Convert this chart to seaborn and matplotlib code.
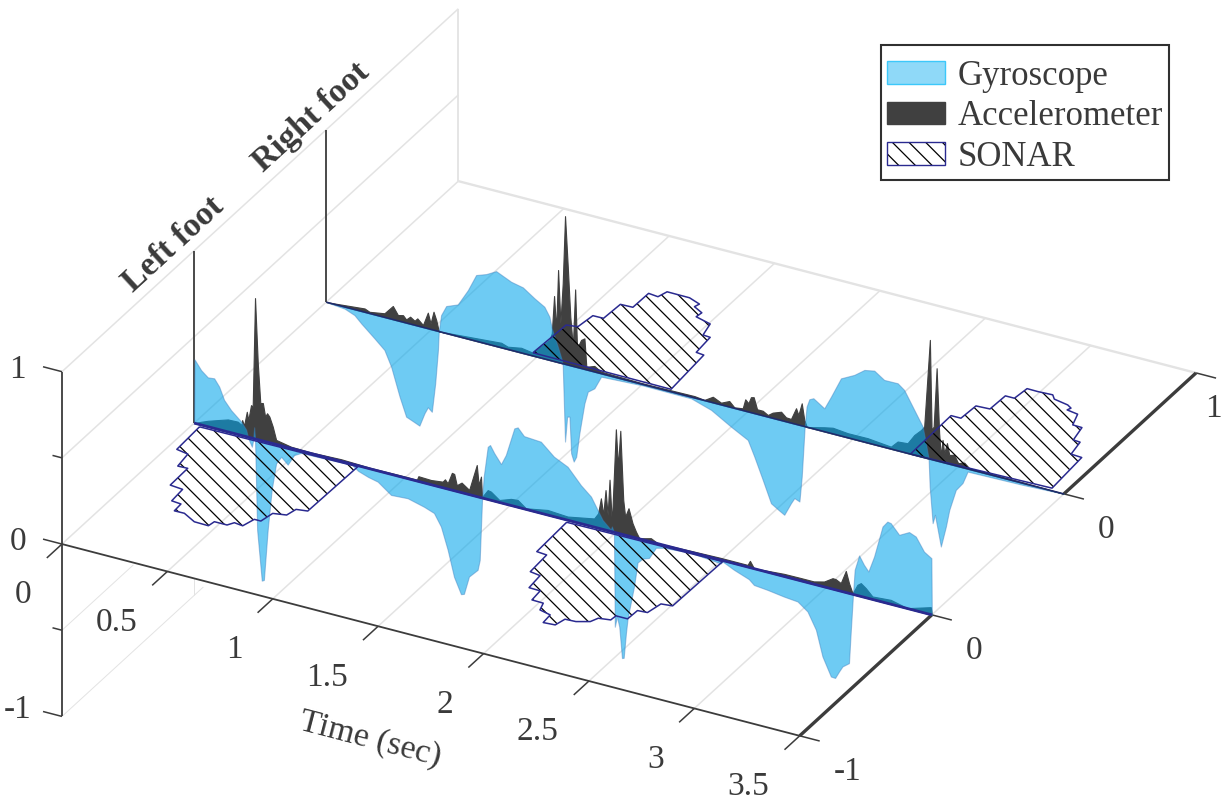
import numpy as np
import matplotlib
matplotlib.use('Agg')
import matplotlib.pyplot as plt
from matplotlib.patches import Patch, Rectangle
from mpl_toolkits.mplot3d import proj3d
from mpl_toolkits.mplot3d.art3d import Poly3DCollection
import seaborn as sns

# left foot
left_gyro_t = [0, 0.002, 0.033, 0.065, 0.095, 0.119, 0.142, 0.175, 0.223, 0.247, 0.256, 0.274, 0.280, 0.285, 0.289, 0.299, 0.321, 0.331, 0.349, 0.368, 0.389, 0.413, 0.444, 0.474, 0.507, 0.75, 0.778, 0.825, 0.871, 0.934, 1.013, 1.091, 1.138, 1.171, 1.203, 1.233, 1.266, 1.280, 1.304, 1.345, 1.355, 1.366, 1.374, 1.393, 1.404, 1.424, 1.456, 1.479, 1.519, 1.535, 1.565, 1.645, 1.707, 1.772, 1.835, 1.883, 1.914, 1.938, 1.977, 1.982, 1.992, 1.996, 2.006, 2.017, 2.030, 2.038, 2.049, 2.057, 2.087, 2.104, 2.128, 2.158, 2.191, 2.229, 2.357, 2.499, 2.507, 2.561, 2.632, 2.656, 2.720, 2.798, 2.863, 2.910, 2.950, 2.981, 3.021, 3.041, 3.060, 3.076, 3.107, 3.115, 3.126, 3.134, 3.155, 3.178, 3.199, 3.226, 3.266, 3.289, 3.305, 3.345, 3.392, 3.424, 3.463, 3.498, 3.5]
left_gyro_z = [0, 0.37, 0.318, 0.286, 0.29, 0.249, 0.18, 0.131, 0.08, 0.04, -0.005, -0.05, -0.01, 0.066, 0, -0.525, -0.812, -0.805, -0.51, -0.27, -0.11, -0.064, -0.10, -0.035, -0.012, -0.005, -0.03, -0.05, -0.063, -0.12, -0.114, -0.139, -0.16, -0.228, -0.353, -0.5, -0.59, -0.584, -0.476, -0.424, -0.364, -0.012, 0.126, 0.305, 0.319, 0.278, 0.225, 0.285, 0.452, 0.463, 0.422, 0.415, 0.348, 0.31, 0.223, 0.172, 0.105, 0.054, 0.01, 0.03, 0, -0.547, -0.485, -0.54, -0.718, -0.714, -0.565, -0.477, -0.285, -0.14, -0.11, -0.097, -0.027, -0.015, -0.004, -0.02, -0.006, -0.037, -0.069, -0.095, -0.103, -0.117, -0.125, -0.168, -0.261, -0.406, -0.51, -0.512, -0.468, -0.434, -0.405, -0.228, -0.002, 0.145, 0.235, 0.188, 0.156, 0.251, 0.438, 0.474, 0.47, 0.415, 0.446, 0.43, 0.355, 0.328, 0]

left_acc_t = [0, 0.033, 0.065, 0.112, 0.160, 0.207, 0.225, 0.228, 0.237, 0.250, 0.257, 0.270, 0.278, 0.289, 0.302, 0.314, 0.326, 0.337, 0.346, 0.357, 0.373, 0.389, 0.460, 0.555, 0.697, 0.839, 0.982, 1.057, 1.064, 1.124, 1.179, 1.190, 1.203, 1.223, 1.234, 1.246, 1.269, 1.305, 1.341, 1.350, 1.361, 1.366, 1.393, 1.408, 1.448, 1.503, 1.535, 1.574, 1.677, 1.772, 1.898, 1.917, 1.930, 1.941, 1.952, 1.962, 1.971, 1.982, 2.001, 2.011, 2.022, 2.036, 2.045, 2.061, 2.080, 2.096, 2.112, 2.167, 2.199, 2.357, 2.499, 2.626, 2.637, 2.656, 2.799, 2.878, 2.940, 2.989, 3.029, 3.044, 3.068, 3.092, 3.107, 3.124, 3.147, 3.163, 3.187, 3.218, 3.305, 3.384, 3.495, 3.5]
left_acc_z = [0, 0.018, 0.034, 0.053, 0.072, 0.074, 0.06, 0.09, 0.06, 0.145, 0.099, 0.19, 0.183, 0.817, 0.444, 0.216, 0.22, 0.144, 0.167, 0.151, 0.098, 0.026, 0.009, 0.006, 0.012, 0.006, 0.008, 0.008, 0.03, 0.027, 0.035, 0.052, 0.033, 0.10, 0.097, 0.036, 0.058, 0.027, 0.183, 0.07, 0.122, 0.005, 0.054, 0.05, 0.014, 0.038, 0.042, 0.006, 0.029, 0.021, 0.05, 0.086, 0.177, 0.084, 0.232, 0.09, 0.298, 0.049, 0.60, 0.386, 0.598, 0.201, 0.107, 0.161, 0.08, 0.037, 0.003, 0.021, 0.002, 0.008, 0.012, 0.012, 0.039, 0.002, 0.015, 0.016, 0.016, 0.031, 0.063, 0.062, 0.047, 0.125, 0.059, 0.005, 0.062, 0.077, 0.055, 0.017, 0.025, 0.002, 0.043, 0]

left_sonar1_t = [0.035, 0.042, 0.102, 0.113, 0.159, 0.162, 0.225, 0.231, 0.278, 0.281, 0.328, 0.399, 0.467, 0.473, 0.533, 0.551, 0.594, 0.611, 0.642, 0.655, 0.713, 0.725, 0.775, 0.781]
left_sonar1_a = [-0.015, -0.198, -0.21, -0.304, -0.302, -0.439, -0.446, -0.538, -0.543, -0.598, -0.597, -0.635, -0.637, -0.601, -0.601, -0.574, -0.58, -0.519, -0.519, -0.45, -0.437, -0.385, -0.376, -0.007]
left_sonar2_t = [1.777, 1.785, 1.835, 1.842, 1.894, 1.902, 1.956, 1.962, 2.017, 2.032, 2.09, 2.095, 2.149, 2.162, 2.212, 2.265, 2.281, 2.334, 2.337, 2.392, 2.395, 2.44, 2.455, 2.506, 2.512]
left_sonar2_a = [-0.015, -0.254, -0.259, -0.394, -0.403, -0.499, -0.501, -0.573, -0.575, -0.624, -0.639, -0.70, -0.695, -0.642, -0.639, -0.615, -0.58, -0.57, -0.535, -0.535, -0.465, -0.461, -0.383, -0.376, -0.007]

# right foot
right_gyro_t = [0, 0.087, 0.134, 0.166, 0.229, 0.276, 0.308, 0.348, 0.379, 0.403, 0.442, 0.466, 0.482, 0.501, 0.517, 0.530, 0.534, 0.545, 0.569, 0.624, 0.672, 0.711, 0.759, 0.806, 0.877, 0.933, 0.988, 1.035, 1.059, 1.070, 1.099, 1.118, 1.122, 1.133, 1.143, 1.154, 1.162, 1.174, 1.186, 1.201, 1.225, 1.241, 1.272, 1.304, 1.5, 1.731, 1.826, 1.92, 2.0, 2.031, 2.071, 2.11, 2.145, 2.173, 2.205, 2.221, 2.245, 2.256, 2.27, 2.279, 2.292, 2.311, 2.363, 2.395, 2.442, 2.505, 2.553, 2.6, 2.647, 2.711, 2.742, 2.79, 2.83, 2.845, 2.858, 2.863, 2.877, 2.888, 2.916, 2.94, 2.956, 2.987, 3.019, 3.043, 3.3, 3.5]
right_gyro_z = [0, -0.01, -0.033, -0.071, -0.138, -0.19, -0.277, -0.438, -0.544, -0.556, -0.576, -0.497, -0.457, -0.477, -0.307, -0.11, 0, 0.098, 0.158, 0.185, 0.283, 0.383, 0.404, 0.436, 0.397, 0.382, 0.336, 0.302, 0.252, 0.188, 0.09, 0.019, -0.008, -0.449, -0.301, -0.298, -0.508, -0.552, -0.52, -0.379, -0.198, -0.125, -0.096, -0.018, -0.006, -0.008, -0.045, -0.112, -0.164, -0.251, -0.373, -0.496, -0.523, -0.543, -0.465, -0.431, -0.443, -0.295, 0, 0.118, 0.165, 0.177, 0.135, 0.213, 0.334, 0.374, 0.418, 0.429, 0.39, 0.391, 0.362, 0.261, 0.177, 0.086, 0, -0.16, -0.368, -0.316, -0.491, -0.367, -0.266, -0.14, -0.09, -0.016, -0.01, 0]

right_acc_t = [0, 0.087, 0.182, 0.205, 0.276, 0.316, 0.34, 0.364, 0.379, 0.398, 0.419, 0.432, 0.459, 0.482, 0.495, 0.509, 0.522, 0.534, 0.672, 0.83, 0.861, 0.925, 0.98, 1.059, 1.07, 1.081, 1.091, 1.10, 1.111, 1.122, 1.133, 1.146, 1.158, 1.17, 1.181, 1.19, 1.209, 1.225, 1.234, 1.272, 1.304, 1.5, 1.747, 1.794, 1.834, 1.873, 1.912, 1.936, 1.976, 1.988, 2.003, 2.015, 2.028, 2.044, 2.071, 2.095, 2.118, 2.158, 2.181, 2.205, 2.229, 2.24, 2.256, 2.268, 2.28, 2.363, 2.403, 2.474, 2.569, 2.679, 2.711, 2.758, 2.79, 2.822, 2.837, 2.864, 2.872, 2.882, 2.896, 2.908, 2.916, 2.924, 2.932, 2.945, 2.956, 2.979, 2.998, 3.027, 3.051, 3.3, 3.5]
right_acc_z = [0, 0.01, 0.021, 0.009, 0.023, 0.078, 0.033, 0.04, 0.02, 0.042, 0.025, 0.043, 0.013, 0.092, 0.034, 0.106, 0.061, 0, 0.013, 0.028, 0.015, 0.029, 0.018, 0.117, 0.159, 0.379, 0.184, 0.536, 0.23, 0.465, 0.859, 0.569, 0.283, 0.113, 0.449, 0.11, 0.165, 0.179, 0.017, 0.034, 0.011, 0.006, 0.01, 0.003, 0.034, 0.012, 0.034, 0.005, 0.012, 0.068, 0.05, 0.089, 0.093, 0.028, 0.028, 0.011, 0.032, 0.05, 0.025, 0.023, 0.093, 0.057, 0.13, 0.038, 0, 0.025, 0.035, 0.026, 0.027, 0.013, 0.053, 0.058, 0.116, 0.155, 0.18, 0.691, 0.172, 0.194, 0.537, 0.164, 0.031, 0.13, 0.056, 0.118, 0.053, 0.061, 0.019, 0.031, 0.006, 0.005, 0]

right_sonar1_t = [0.968, 0.979, 1.029, 1.04, 1.09, 1.096, 1.154, 1.156, 1.204, 1.218, 1.325, 1.387, 1.379, 1.431, 1.426, 1.507, 1.525, 1.561, 1.57, 1.609, 1.626]
right_sonar1_a = [0.02, 0.254, 0.263, 0.359, 0.36, 0.478, 0.48, 0.596, 0.59, 0.637, 0.636, 0.612, 0.587, 0.56, 0.525, 0.502, 0.419, 0.416, 0.296, 0.291, 0.016]
right_sonar2_t = [2.772, 2.767, 2.814, 2.82, 2.884, 2.888, 2.931, 2.939, 2.99, 3.059, 3.082, 3.155, 3.18, 3.173, 3.229, 3.254, 3.299, 3.317, 3.351, 3.366, 3.419, 3.433]
right_sonar2_a = [0.0, 0.315, 0.315, 0.419, 0.423, 0.533, 0.533, 0.616, 0.615, 0.619, 0.594, 0.579, 0.564, 0.546, 0.536, 0.459, 0.457, 0.363, 0.36, 0.268, 0.264, 0.017]

time_ticks = [0, 0.5, 1, 1.5, 2, 2.5, 3, 3.5]
time_labels = ['0', '0.5', '1', '1.5', '2', '2.5', '3', '3.5']
foot_ticks = [0, 1, 2, 3]
foot_labels = ['-1', '0', '0', '1']
z_ticks = [-1, -0.5, 0, 0.5, 1]
z_labels = ['-1', '0', '1']
legend_labels = ['Gyroscope', 'Accelerometer', 'SONAR']

TEXT = '#3a3a3a'
AXIS = '#3c3c3c'
GRID = '#e3e3e3'
GYRO = (0.02, 0.65, 0.92, 0.58)
GYRO_EDGE = (0.25, 0.5, 0.75, 0.45)
ACC = '#404040'
NAVY = '#2a2a90'

sns.set_theme(style='white')
plt.rcParams['font.family'] = ['Liberation Serif', 'DejaVu Sans']
plt.rcParams['hatch.linewidth'] = 0.9

W, H = 1225, 797
P = 1400
fig = plt.figure(figsize=(W / 100, H / 100), dpi=100)
ax = fig.add_axes([(629 - 0.5135 * P) / W, (338.5 - 0.5135 * P) / H, P / W, P / H],
                  projection='3d', proj_type='ortho', computed_zorder=False)
ax.set_xlim(0, 3.5)
ax.set_ylim(0, 3)
ax.set_zlim(-1, 1)
ax.view_init(elev=29.2, azim=-61.95)
ax.set_box_aspect((836, 843, 395), zoom=0.8675)
ax.set_xticks([])
ax.set_yticks([])
ax.set_zticks([])
ax.set_axis_off()


def line(t, y, z, color=GRID, lw=1.0, zorder=1):
    ax.plot(t, y, z, color=color, lw=lw, zorder=zorder, solid_capstyle='butt')


def signal(t, z, y0, face, edge, zorder):
    verts = np.column_stack((t, np.full(len(t), y0), z))
    ax.add_collection3d(Poly3DCollection([verts], facecolors=[face], edgecolors=[edge],
                                         linewidths=0.8, zorder=zorder))


def sonar(t, a, y0, zorder):
    y = y0 + np.array(a)
    verts = np.column_stack((t, y, np.zeros(len(t))))
    ax.add_collection3d(Poly3DCollection([verts], facecolors=[(1, 1, 1, 0)], edgecolors=['black'],
                                         linewidths=0, hatch='\\\\', zorder=zorder))
    line(list(t) + [t[0]], list(y) + [y[0]], np.zeros(len(t) + 1), color=NAVY, lw=1.1, zorder=zorder + 0.1)


def label(t, y, z, s, **kw):
    # plain 2D text at the projected spot, so its extent is the drawn one
    px, py, _ = proj3d.proj_transform(t, y, z, ax.get_proj())
    ax.text2D(px, py, s, transform=ax.transData, color=TEXT, rotation_mode='anchor', **kw)


# back walls and floor grid
for z in [0, 0.5, 1]:
    line([0, 0], [0, 3], [z, z], lw=1.1)
line([0, 0], [0, 1.07], [-1, -1], lw=0.7)
line([0, 0], [0, 0.54], [-0.5, -0.5], lw=0.7)
line([0, 0], [1, 1], [-1, -0.9], lw=0.7)
line([0, 0], [3, 3], [0, 1], lw=1.3)
line([0, 3.5], [3, 3], [0, 0], lw=1.7)
for t in time_ticks[1:-1]:
    line([t, t], [0, 3], [0, 0], lw=1.1)
line([3.5, 3.5], [1, 2], [0, 0], lw=1.1)

# axes and ticks
line([0, 3.5], [0, 0], [0, 0], color=AXIS, lw=1.3, zorder=2)
line([0, 0], [0, 0], [-1, 1], color=AXIS, lw=1.3, zorder=2)
line([3.5, 3.5], [0, 1], [0, 0], color=AXIS, lw=2.4, zorder=2)
line([3.5, 3.5], [2, 3], [0, 0], color=AXIS, lw=2.4, zorder=2)
for t, s in zip(time_ticks, time_labels):
    line([t, t], [0, -0.115], [0, 0], color=AXIS, lw=1.1, zorder=2)
    label(t + 0.0946, -0.379, 0, s, fontsize=24, ha='right', va='center')
for y in foot_ticks:
    line([3.5, 3.595], [y, y], [0, 0], color=AXIS, lw=1.1, zorder=2)
for y, s, dt, dy in zip(foot_ticks, foot_labels, [0.2706, 0.2706, 0.2706, 0.178], [-0.175, -0.175, -0.175, -0.217]):
    label(3.5 + dt, y + dy, 0, s, fontsize=24, ha='left', va='center')
for z in z_ticks:
    line([0, -0.09 if z in (-1, 0, 1) else -0.045], [0, 0], [z, z], color=AXIS, lw=1.1, zorder=2)
for z, s in zip([-0.97, 0, 1], z_labels):
    label(-0.171, -0.061, z, s, fontsize=24, ha='center', va='center')

label(1.93, -0.745, 0, 'Time (sec)', fontsize=24.5, ha='center', va='center', rotation=-14.6)
label(0, 0.89, 1.076, 'Left foot', fontsize=24.5, fontweight='bold', ha='center', va='baseline', rotation=42.5)
label(0, 1.93, 1.085, 'Right foot', fontsize=24.5, fontweight='bold', ha='center', va='baseline', rotation=42.5)

# right foot first, left foot on top
line([0, 0], [2, 2], [0, 1], color=AXIS, lw=1.3, zorder=3)
signal(right_acc_t, right_acc_z, 2, ACC, ACC, 4)
signal(right_gyro_t, right_gyro_z, 2, GYRO, GYRO_EDGE, 5)
sonar(right_sonar1_t, right_sonar1_a, 2, 6)
sonar(right_sonar2_t, right_sonar2_a, 2, 6)
line([0, 3.5], [2, 2], [0, 0], color='#1f2a6b', lw=1.1, zorder=7)

line([0, 0], [1, 1], [0, 1], color=AXIS, lw=1.3, zorder=8)
signal(left_acc_t, left_acc_z, 1, ACC, ACC, 9)
signal(left_gyro_t, left_gyro_z, 1, GYRO, GYRO_EDGE, 10)
sonar(left_sonar1_t, left_sonar1_a, 1, 11)
sonar(left_sonar2_t, left_sonar2_a, 1, 11)
line([0, 3.5], [1, 1], [0, 0], color=NAVY, lw=2.0, zorder=12)

# legend
fig.add_artist(Rectangle((881 / W, 1 - 180 / H), 288 / W, 135 / H, transform=fig.transFigure,
                         facecolor='white', edgecolor='#303030', lw=1.5, zorder=20))
handles = [Patch(facecolor='#8fd9f8', edgecolor='#3cc8fa', lw=1),
           Patch(facecolor=ACC, edgecolor=ACC, lw=1),
           (Patch(facecolor='white', edgecolor='black', lw=0, hatch='\\\\'),
            Patch(facecolor='none', edgecolor=NAVY, lw=1))]
leg = fig.legend(handles, legend_labels, loc='upper left', bbox_to_anchor=(887 / W, 1 - 60 / H),
                 frameon=False, fontsize=25, borderaxespad=0, borderpad=0, handlelength=1.67,
                 handleheight=0.63, handletextpad=0.375, labelspacing=0.21, labelcolor=TEXT)
leg.set_zorder(21)

fig.savefig('out.png', dpi=100)
